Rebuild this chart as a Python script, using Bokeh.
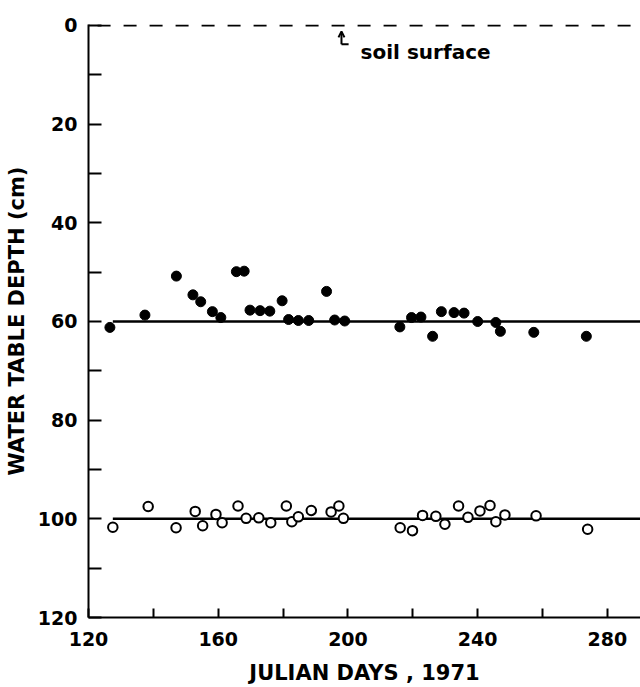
from bokeh.plotting import figure
from bokeh.models import Range1d, FixedTicker, Arrow, OpenHead, Label
from bokeh.embed import file_html
from bokeh.resources import INLINE

# ---- data (Julian day, water table depth in cm) ----
filled_days = [126.6, 137.4, 147.1, 152.2, 154.6, 158.2, 160.8, 165.6, 168.0, 169.8,
               172.9, 175.9, 179.7, 181.7, 184.7, 187.9, 193.4, 195.9, 199.0,
               216.0, 219.6, 222.5, 226.1, 228.8, 232.7, 235.8, 240.0, 245.6, 247.0,
               257.3, 273.5]
filled_depth = [61.2, 58.7, 50.8, 54.6, 56.0, 58.0, 59.2, 49.9, 49.8, 57.7,
                57.8, 57.9, 55.8, 59.6, 59.8, 59.8, 53.9, 59.7, 59.9,
                61.1, 59.2, 59.1, 63.0, 58.0, 58.2, 58.3, 60.0, 60.2, 62.0,
                62.2, 63.0]

open_days = [127.5, 138.4, 147.0, 152.9, 155.2, 159.3, 161.2, 166.1, 168.6, 172.5,
             176.2, 181.0, 182.7, 184.7, 188.7, 194.8, 197.2, 198.6,
             216.1, 219.9, 223.0, 227.1, 229.9, 234.1, 237.0, 240.7, 243.8, 245.6,
             248.4, 258.0, 273.9]
open_depth = [101.7, 97.5, 101.8, 98.5, 101.4, 99.1, 100.8, 97.4, 99.9, 99.8,
              100.8, 97.4, 100.6, 99.6, 98.3, 98.6, 97.4, 99.9,
              101.8, 102.4, 99.3, 99.5, 101.1, 97.4, 99.7, 98.4, 97.3, 100.6,
              99.2, 99.4, 102.1]

# mean water table levels and their extent
level_filled = 60
level_open = 100
level_days = [127.5, 290.2]
surface_days = [122.8, 290.2]
surface_depth = 0

x_ticks = [120, 140, 160, 180, 200, 220, 240, 260, 280]
x_labels = ["120", "", "160", "", "200", "", "240", "", "280"]
y_ticks = [0, 10, 20, 30, 40, 50, 60, 70, 80, 90, 100, 110, 120]
y_labels = ["0", "", "20", "", "40", "", "60", "", "80", "", "100", "", "120"]

FONT = "DejaVu Sans"

p = figure(width=640, height=687,
           x_range=Range1d(120, 290.2), y_range=Range1d(120, -0.2),
           output_backend="svg", toolbar_location=None,
           min_border_left=88, min_border_right=0,
           min_border_top=24, min_border_bottom=70)

p.outline_line_color = None
p.grid.visible = False
p.background_fill_color = "white"
p.border_fill_color = "white"

# axes
p.xaxis.ticker = FixedTicker(ticks=x_ticks)
p.xaxis.major_label_overrides = {t: l for t, l in zip(x_ticks, x_labels)}
p.yaxis.ticker = FixedTicker(ticks=y_ticks)
p.yaxis.major_label_overrides = {t: l for t, l in zip(y_ticks, y_labels)}

for ax in (p.xaxis, p.yaxis):
    ax.axis_line_color = "black"
    ax.axis_line_width = 2
    ax.major_tick_line_color = "black"
    ax.major_tick_line_width = 2
    ax.major_tick_out = 0
    ax.minor_tick_line_color = None
    ax.major_label_text_font = FONT
    ax.major_label_text_font_style = "bold"
    ax.major_label_text_font_size = "19px"
    ax.major_label_text_color = "black"
    ax.axis_label_text_font = FONT
    ax.axis_label_text_font_style = "bold"
    ax.axis_label_text_color = "black"

p.xaxis.major_tick_in = 9
p.yaxis.major_tick_in = 13
p.xaxis.major_label_standoff = 14
p.yaxis.major_label_standoff = 11

p.xaxis.axis_label = "JULIAN DAYS , 1971"
p.xaxis.axis_label_text_font_size = "21px"
p.xaxis.axis_label_standoff = 12
p.yaxis.axis_label = "WATER TABLE DEPTH (cm)"
p.yaxis.axis_label_text_font_size = "21px"
p.yaxis.axis_label_standoff = 6

# soil surface dashed line
p.line(surface_days, [surface_depth] * len(surface_days),
       line_color="black", line_width=2, line_dash="13 13")

# mean level lines
p.line(level_days, [level_filled] * len(level_days), line_color="black", line_width=2.5)
p.line(level_days, [level_open] * len(level_days), line_color="black", line_width=2.5)

# data points
p.scatter(filled_days, filled_depth, marker="circle", size=10,
          fill_color="black", line_color="black", line_width=1)
p.scatter(open_days, open_depth, marker="circle", size=9.5,
          fill_color="white", line_color="black", line_width=2)

# soil surface annotation
p.add_layout(Arrow(end=OpenHead(size=6, line_width=2, line_color="black"),
                   x_start=198.0, y_start=3.8, x_end=198.0, y_end=1.2,
                   line_width=2, line_color="black"))
p.segment(x0=[198.0], y0=[3.8], x1=[200.2], y1=[3.8], line_color="black", line_width=2)
p.add_layout(Label(x=203.9, y=5.4, text="soil surface",
                   text_font=FONT, text_font_style="bold",
                   text_font_size="20px", text_baseline="alphabetic",
                   text_color="black"))

open("out.html", "w").write(file_html(p, INLINE))
